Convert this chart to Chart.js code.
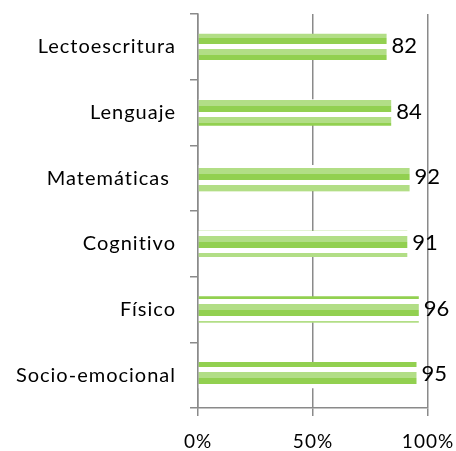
<!DOCTYPE html>
<html>
<head>
<meta charset="utf-8">
<script src="https://cdn.jsdelivr.net/npm/chart.js@4"></script>
<style>
  html, body { margin: 0; padding: 0; background: #fff; }
</style>
</head>
<body>
<canvas id="canvas" width="456" height="451"></canvas>
<script>
const labels = ['Lectoescritura', 'Lenguaje', 'Matemáticas ', 'Cognitivo', 'Físico', 'Socio-emocional']
const values = [82, 84, 92, 91, 96, 95]
const xTickLabels = ['0%', '50%', '100%']

const axisGray = '#8a8a8a'
const canvas = document.getElementById('canvas')
const ctx = canvas.getContext('2d')

// horizontal stripe fill: light green / green / white, 17px repeat
function stripeFill() {
  const tile = document.createElement('canvas')
  tile.width = 4
  tile.height = 17
  const g = tile.getContext('2d')
  g.fillStyle = '#ffffff'
  g.fillRect(0, 0, 4, 17)
  g.fillStyle = '#b2de86'
  g.fillRect(0, 0, 4, 4)
  g.fillRect(0, 15, 4, 2)
  g.fillStyle = '#92d050'
  g.fillRect(0, 4, 4, 6)
  return ctx.createPattern(tile, 'repeat')
}

// slightly wider text for the axis labels
const spacing = {
  id: 'spacing',
  beforeLayout(chart) { chart.ctx.letterSpacing = '1px' },
  beforeDraw(chart) { chart.ctx.letterSpacing = '1px' },
}

// number written just right of each bar
const valueLabels = {
  id: 'valueLabels',
  afterDatasetsDraw(chart) {
    const c = chart.ctx
    const meta = chart.getDatasetMeta(0)
    c.save()
    c.letterSpacing = '0px'
    c.font = '22px Lato'
    c.fillStyle = '#000'
    c.textAlign = 'left'
    c.textBaseline = 'middle'
    meta.data.forEach((bar, i) => {
      c.fillText(String(values[i]), bar.x + 5, bar.y - 1)
    })
    c.restore()
  }
}

const data = {
  labels: labels,
  datasets: [
    {
      data: values,
      backgroundColor: stripeFill(),
      borderWidth: 0,
      barPercentage: 0.4,
      categoryPercentage: 1,
    },
  ],
}

const config = {
  type: 'bar',
  data: data,
  options: {
    indexAxis: 'y',
    responsive: false,
    animation: false,
    layout: { padding: { top: 14, right: 28, left: 0, bottom: 0 } },
    plugins: {
      legend: { display: false },
      tooltip: { enabled: false },
    },
    scales: {
      x: {
        min: 0,
        max: 100,
        ticks: {
          stepSize: 50,
          padding: 14,
          color: '#000',
          font: { family: 'Lato', size: 19 },
          callback: (v, i) => xTickLabels[i],
        },
        grid: { color: axisGray, lineWidth: 1.5, tickLength: 8 },
        border: { color: axisGray, width: 1.5 },
        afterFit(scale) {
          scale.height = 43
          scale.paddingLeft = 0
          scale.paddingRight = 0
        },
      },
      y: {
        ticks: {
          padding: 14,
          color: '#000',
          font: { family: 'Lato', size: 20 },
        },
        grid: { offset: true, drawOnChartArea: false, color: axisGray, lineWidth: 1.5, tickLength: 8 },
        border: { color: axisGray, width: 1.5 },
        afterFit(scale) {
          scale.width = 198
          scale.paddingTop = 0
          scale.paddingBottom = 0
        },
      },
    },
  },
  plugins: [spacing, valueLabels],
}

const chart = new Chart(canvas, config)
</script>
</body>
</html>
